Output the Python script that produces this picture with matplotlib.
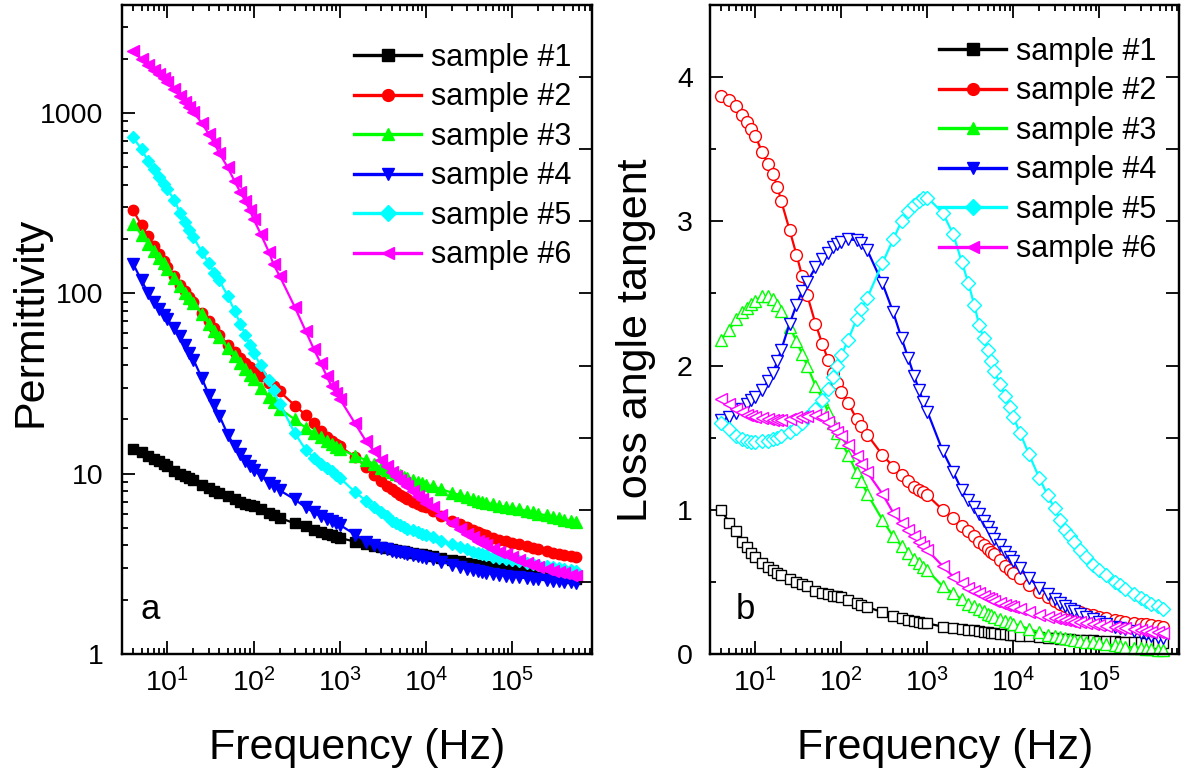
import numpy as np
import matplotlib
matplotlib.use('Agg')
import matplotlib.pyplot as plt
from matplotlib.lines import Line2D
from matplotlib.ticker import FixedLocator, LogLocator, NullLocator, FuncFormatter, MultipleLocator, NullFormatter

plt.rcParams['font.family'] = ['Liberation Sans', 'DejaVu Sans']
plt.rcParams['mathtext.fontset'] = 'custom'
plt.rcParams['mathtext.rm'] = 'Liberation Sans'
plt.rcParams['mathtext.it'] = 'Liberation Sans:italic'
plt.rcParams['mathtext.bf'] = 'Liberation Sans:bold'

# ---------------- data ----------------
freq_hz = [4, 5, 6, 7, 8, 9, 10, 12, 14, 16, 18, 20, 25, 30, 35, 40, 50, 60, 70, 80, 90, 100,
           120, 150, 170, 200,
           300, 400, 500, 600, 700, 800, 900, 1000,
           1500, 2000, 2500, 3000, 3500, 4000, 4500, 5000, 5500, 6000, 7000, 8000, 9000, 10000,
           12000, 15000, 20000, 25000, 30000, 35000, 40000, 45000, 50000, 60000, 70000, 85000,
           100000, 120000, 150000, 175000, 200000, 250000, 300000, 350000, 400000, 475000, 550000]

labels = ['sample #1', 'sample #2', 'sample #3', 'sample #4', 'sample #5', 'sample #6']

# permittivity (panel a)
perm_1 = [13.8, 13.2, 12.6, 12.1, 11.7, 11.3, 11.0, 10.4, 10.0, 9.7, 9.45, 9.2, 8.7, 8.35, 8.05, 7.85,
          7.5, 7.2, 7.0, 6.8, 6.7, 6.6,
          6.35, 6.05, 5.9, 5.7,
          5.3, 5.1, 4.9, 4.75, 4.65, 4.55, 4.48, 4.4,
          4.2, 4.05, 3.98, 3.92, 3.87, 3.82, 3.78, 3.74, 3.71, 3.68, 3.64, 3.6, 3.57, 3.55,
          3.5, 3.42, 3.32, 3.26, 3.2, 3.16, 3.12, 3.1, 3.07, 3.03, 3.0, 2.96,
          2.93, 2.9, 2.85, 2.82, 2.8, 2.76, 2.72, 2.69, 2.66, 2.63, 2.6]
perm_2 = [289, 239, 208, 184, 165, 152, 141, 125, 112, 103, 96, 90, 78, 70, 64, 59, 52, 47.5, 44,
          41, 39, 37.5,
          35, 32, 30.5, 28.6,
          23.9, 21.2, 19.0, 17.2, 16.0, 15.2, 14.7, 14.2,
          12.4, 10.9, 9.8, 9.1, 8.6, 8.2, 7.9, 7.6, 7.4, 7.2, 7.0, 6.8, 6.65, 6.5,
          6.2, 5.85, 5.5, 5.25, 5.05, 4.9, 4.75, 4.65, 4.55, 4.42, 4.3, 4.22,
          4.14, 4.05, 3.95, 3.88, 3.82, 3.73, 3.65, 3.6, 3.55, 3.51, 3.47]
perm_3 = [242, 212, 188, 172, 158, 147, 137, 122, 110, 101, 94, 89, 77, 68, 62, 57, 50, 45, 41, 38,
          35.5, 33.5,
          30, 26.5, 25, 23.0,
          20.0, 18.0, 16.8, 15.9, 15.2, 14.6, 14.1, 13.7,
          12.6, 11.9, 11.3, 10.8, 10.5, 10.2, 10.0, 9.8, 9.65, 9.5, 9.25, 9.0, 8.85, 8.7,
          8.5, 8.2, 7.85, 7.6, 7.4, 7.25, 7.1, 7.0, 6.9, 6.77, 6.65, 6.55,
          6.45, 6.35, 6.2, 6.1, 6.0, 5.87, 5.75, 5.65, 5.55, 5.47, 5.4]
perm_4 = [146, 118, 100, 90, 82, 76, 71.7, 64, 58, 52, 47, 43, 34, 27.5, 24, 21, 16.5, 14.2, 12.8,
          11.8, 11.1, 10.5,
          9.8, 8.9, 8.5, 8.1,
          7.2, 6.5, 6.1, 5.8, 5.6, 5.45, 5.3, 5.2,
          4.6, 4.2, 4.0, 3.88, 3.81, 3.75, 3.7, 3.66, 3.63, 3.6, 3.55, 3.5, 3.46, 3.42,
          3.35, 3.25, 3.12, 3.04, 2.98, 2.93, 2.88, 2.85, 2.82, 2.78, 2.75, 2.72,
          2.69, 2.66, 2.63, 2.61, 2.6, 2.57, 2.55, 2.53, 2.52, 2.5, 2.48]
perm_5 = [733, 631, 540, 490, 440, 405, 378, 330, 280, 250, 225, 205, 170, 148, 130, 118, 97, 80,
          68, 59, 52, 47,
          40, 33, 29, 24.5,
          16.8, 13.6, 12.2, 11.3, 10.7, 10.3, 9.9, 9.5,
          7.9, 7.1, 6.5, 6.1, 5.8, 5.5, 5.35, 5.2, 5.07, 4.95, 4.85, 4.75, 4.66, 4.58,
          4.45, 4.25, 4.05, 3.92, 3.8, 3.7, 3.62, 3.57, 3.52, 3.47, 3.42, 3.37,
          3.33, 3.27, 3.2, 3.16, 3.12, 3.07, 3.02, 2.99, 2.96, 2.93, 2.9]
perm_6 = [2210, 1995, 1850, 1740, 1640, 1560, 1480, 1360, 1245, 1160, 1085, 1020, 880, 770, 680,
          600, 500, 420, 365, 325, 290, 258,
          215, 170, 145, 125,
          84, 62, 49, 41, 35, 30.5, 28, 26,
          19, 15.2, 13.3, 11.9, 11.0, 10.2, 9.7, 9.2, 8.85, 8.5, 8.0, 7.5, 7.2, 6.9,
          6.5, 5.9, 5.3, 4.95, 4.65, 4.43, 4.25, 4.12, 4.0, 3.83, 3.7, 3.57,
          3.45, 3.33, 3.2, 3.12, 3.05, 2.97, 2.9, 2.85, 2.8, 2.76, 2.72]

# loss angle tangent (panel b)
tan_1 = [1.00, 0.91, 0.85, 0.78, 0.74, 0.70, 0.67, 0.63, 0.605, 0.585, 0.565, 0.55, 0.52, 0.50,
         0.485, 0.47, 0.44, 0.425, 0.415, 0.405, 0.40, 0.395,
         0.375, 0.355, 0.342, 0.325,
         0.29, 0.265, 0.25, 0.236, 0.228, 0.22, 0.215, 0.212,
         0.19, 0.18, 0.172, 0.168, 0.164, 0.16, 0.156, 0.152, 0.149, 0.146, 0.142, 0.138, 0.135, 0.132,
         0.128, 0.123, 0.117, 0.112, 0.108, 0.105, 0.103, 0.101, 0.10, 0.098, 0.097, 0.095,
         0.093, 0.091, 0.088, 0.086, 0.085, 0.082, 0.08, 0.078, 0.077, 0.075, 0.074]
tan_2 = [3.87, 3.84, 3.80, 3.74, 3.69, 3.64, 3.59, 3.48, 3.40, 3.33, 3.24, 3.14, 2.94, 2.77, 2.62,
         2.49, 2.29, 2.15, 2.04, 1.95, 1.88, 1.82,
         1.74, 1.63, 1.58, 1.52,
         1.38, 1.30, 1.24, 1.20, 1.16, 1.14, 1.12, 1.10,
         1.00, 0.94, 0.89, 0.85, 0.815, 0.78, 0.755, 0.73, 0.71, 0.69, 0.65, 0.61, 0.585, 0.565,
         0.53, 0.48, 0.43, 0.395, 0.37, 0.35, 0.33, 0.315, 0.305, 0.29, 0.28, 0.27,
         0.26, 0.25, 0.235, 0.23, 0.225, 0.217, 0.21, 0.205, 0.20, 0.195, 0.19]
tan_3 = [2.18, 2.25, 2.32, 2.37, 2.40, 2.43, 2.45, 2.48, 2.48, 2.46, 2.42, 2.38, 2.27, 2.17, 2.08,
         2.00, 1.86, 1.77, 1.68, 1.60, 1.53, 1.47,
         1.38, 1.26, 1.20, 1.11,
         0.93, 0.815, 0.75, 0.70, 0.66, 0.63, 0.606, 0.58,
         0.47, 0.42, 0.38, 0.35, 0.33, 0.31, 0.295, 0.28, 0.27, 0.26, 0.245, 0.23, 0.22, 0.21,
         0.195, 0.175, 0.15, 0.135, 0.125, 0.115, 0.108, 0.102, 0.097, 0.091, 0.086, 0.08,
         0.075, 0.068, 0.06, 0.055, 0.05, 0.045, 0.04, 0.036, 0.033, 0.03, 0.028]
tan_4 = [1.62, 1.64, 1.67, 1.70, 1.73, 1.76, 1.78, 1.83, 1.89, 1.95, 2.03, 2.11, 2.29, 2.42, 2.52,
         2.58, 2.68, 2.74, 2.78, 2.82, 2.84, 2.86,
         2.875, 2.87, 2.85, 2.80,
         2.57, 2.37, 2.19, 2.05, 1.93, 1.83, 1.75, 1.68,
         1.41, 1.26, 1.14, 1.07, 1.02, 0.97, 0.92, 0.88, 0.84, 0.80, 0.755, 0.71, 0.675, 0.645,
         0.595, 0.53, 0.46, 0.415, 0.38, 0.355, 0.33, 0.315, 0.30, 0.28, 0.26, 0.24,
         0.225, 0.21, 0.19, 0.18, 0.17, 0.157, 0.145, 0.136, 0.128, 0.118, 0.11]
tan_5 = [1.60, 1.56, 1.51, 1.49, 1.475, 1.47, 1.47, 1.475, 1.48, 1.49, 1.50, 1.51, 1.54, 1.57,
         1.60, 1.64, 1.70, 1.76, 1.84, 1.92, 2.00, 2.07,
         2.18, 2.32, 2.39, 2.47,
         2.71, 2.875, 3.00, 3.07, 3.11, 3.14, 3.16, 3.165,
         3.06, 2.91, 2.72, 2.57, 2.42, 2.28, 2.19, 2.11, 2.03, 1.96, 1.87, 1.79, 1.71, 1.64,
         1.53, 1.39, 1.22, 1.10, 1.01, 0.93, 0.86, 0.82, 0.78, 0.72, 0.67, 0.62,
         0.58, 0.545, 0.50, 0.475, 0.45, 0.415, 0.385, 0.365, 0.35, 0.33, 0.31]
tan_6 = [1.77, 1.73, 1.70, 1.68, 1.66, 1.65, 1.645, 1.635, 1.63, 1.625, 1.625, 1.625, 1.63, 1.64,
         1.645, 1.65, 1.655, 1.64, 1.61, 1.57, 1.54, 1.51,
         1.45, 1.37, 1.32, 1.26,
         1.11, 0.98, 0.91, 0.86, 0.82, 0.78, 0.75, 0.72,
         0.61, 0.535, 0.49, 0.46, 0.44, 0.425, 0.405, 0.39, 0.38, 0.37, 0.355, 0.34, 0.332, 0.325,
         0.31, 0.29, 0.27, 0.26, 0.25, 0.242, 0.235, 0.23, 0.225, 0.22, 0.213, 0.206,
         0.20, 0.193, 0.185, 0.182, 0.178, 0.171, 0.165, 0.16, 0.155, 0.15, 0.145]

perm_series = [perm_1, perm_2, perm_3, perm_4, perm_5, perm_6]
tan_series = [tan_1, tan_2, tan_3, tan_4, tan_5, tan_6]
for s in perm_series + tan_series:
    assert len(s) == len(freq_hz), len(s)

x_major = [1e1, 1e2, 1e3, 1e4, 1e5]
perm_ticks = [1, 10, 100, 1000]
tan_ticks = [0, 1, 2, 3, 4]

# ---------------- styles ----------------
colors = ['#000000', '#FF0000', '#00FF00', '#0000FF', '#00FFFF', '#FF00FF']
markers = ['s', 'o', '^', 'v', 'D', '<']
ms_fill = [7, 7.5, 8.5, 8.5, 6.5, 8.5]
ms_open = [7, 8.5, 9, 9, 7, 9]

W, H = 1192, 775
fig = plt.figure(figsize=(W / 100, H / 100), dpi=100)
axL = fig.add_axes([121.5 / W, 1 - 654 / H, 470.5 / W, 649 / H])
axR = fig.add_axes([709.5 / W, 1 - 654 / H, 469.5 / W, 649 / H])

XLIM = (2.93, 8.4e5)
TICKFS = 20.5

for y, c, m, ms in zip(perm_series, colors, markers, ms_fill):
    axL.plot(freq_hz, y, color=c, marker=m, ms=ms, mfc=c, mec=c, lw=1.6, clip_on=False)
for y, c, m, ms in zip(tan_series, colors, markers, ms_open):
    axR.plot(freq_hz, y, color=c, marker=m, ms=ms, mfc='white', mec=c, mew=1.0, lw=1.6,
             clip_on=False)

fmt_exp = FuncFormatter(lambda v, p: r'$\mathdefault{10^{%d}}$' % int(round(np.log10(v))))

for ax in (axL, axR):
    ax.set_xscale('log')
    ax.set_xlim(*XLIM)
    ax.xaxis.set_major_locator(FixedLocator(x_major))
    ax.xaxis.set_major_formatter(fmt_exp)
    ax.xaxis.set_minor_locator(LogLocator(base=10, subs=np.arange(2, 10), numticks=20))
    ax.xaxis.set_minor_formatter(NullFormatter())
    for sp in ax.spines.values():
        sp.set_linewidth(1.6)
    ax.tick_params(axis='x', which='both', direction='in', top=True, bottom=True,
                   labelsize=TICKFS, pad=10, width=1.3)
    ax.tick_params(axis='y', which='both', direction='in', left=True, right=False,
                   labelsize=TICKFS, width=1.3)
    ax.tick_params(which='major', length=9.2)
    ax.tick_params(which='minor', length=4.5)

axL.tick_params(axis='y', pad=13)
axR.tick_params(axis='y', pad=12)

# left panel y (log)
axL.set_yscale('log')
axL.set_ylim(1, 3981)
axL.yaxis.set_major_locator(FixedLocator(perm_ticks))
axL.yaxis.set_major_formatter(FuncFormatter(lambda v, p: '%g' % v))
axL.yaxis.set_minor_locator(LogLocator(base=10, subs=np.arange(2, 10), numticks=20))
axL.yaxis.set_minor_formatter(NullFormatter())

axL2 = axL.twinx()
axL2.set_yscale('log')
axL2.set_ylim(1, 3981)
axL2.yaxis.set_major_locator(FixedLocator([10 ** (0.4 * k) for k in range(1, 10)]))
axL2.yaxis.set_minor_locator(NullLocator())
axL2.tick_params(axis='y', direction='in', length=9.2, width=1.3, labelright=False)
for sp in axL2.spines.values():
    sp.set_linewidth(1.6)

# right panel y (linear)
axR.set_ylim(0, 4.5)
axR.yaxis.set_major_locator(FixedLocator(tan_ticks))
axR.yaxis.set_minor_locator(MultipleLocator(0.5))
axR2 = axR.twinx()
axR2.set_ylim(0, 4.5)
axR2.yaxis.set_major_locator(MultipleLocator(0.5))
axR2.yaxis.set_minor_locator(NullLocator())
axR2.tick_params(axis='y', direction='in', length=9.2, width=1.3, labelright=False)
for sp in axR2.spines.values():
    sp.set_linewidth(1.6)

# axis titles
fig.text(357 / W, 1 - 748 / H, 'Frequency (Hz)', fontsize=31, ha='center', va='center')
fig.text(945 / W, 1 - 748 / H, 'Frequency (Hz)', fontsize=31, ha='center', va='center')
fig.text(31 / W, 1 - 322 / H, 'Permittivity', fontsize=31, rotation=90, ha='center', va='center')
fig.text(636 / W, 1 - 340 / H, 'Loss angle tangent', fontsize=31, rotation=90, ha='center',
         va='center')

axL.text((140 - 121.5) / 470.5, (654 - 619) / 649, 'a', transform=axL.transAxes, fontsize=25,
         ha='left', va='baseline')
axR.text((735.5 - 709.5) / 469.5, (654 - 619) / 649, 'b', transform=axR.transAxes, fontsize=25,
         ha='left', va='baseline')

# legends (filled markers in both panels)
handles = [Line2D([], [], color=c, marker=m, ms=8.5, mfc=c, mec=c, lw=2.4)
           for c, m in zip(colors, markers)]
leg_kw = dict(loc='upper left', frameon=False, fontsize=22, handlelength=2.2, handletextpad=0.33,
              labelspacing=0.31, borderpad=0, borderaxespad=0)
axL.legend(handles, labels, bbox_to_anchor=((354 - 121.5) / 470.5, (654 - 43) / 649), **leg_kw)
axR.legend(handles, labels, bbox_to_anchor=((939 - 709.5) / 469.5, (654 - 37) / 649), **leg_kw)

fig.savefig('out.png', dpi=100)
